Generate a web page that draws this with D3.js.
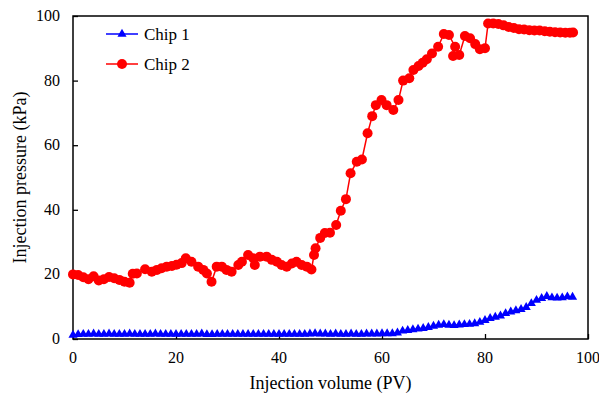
<!DOCTYPE html>
<html>
<head>
<meta charset="utf-8">
<script src="https://cdn.jsdelivr.net/npm/d3@7"></script>
<style>
  text { font-family: "Liberation Serif" !important; }
</style>
</head>
<body style="margin:0">
<div id="chart"></div>
<script>
// Chip 1 - one reading per PV
const chip1Volume = [
  0, 1, 2, 3, 4, 5, 6, 7, 8, 9, 10, 11, 12, 13, 14, 15, 16, 17, 18, 19,
  20, 21, 22, 23, 24, 25, 26, 27, 28, 29, 30, 31, 32, 33, 34, 35, 36, 37, 38, 39,
  40, 41, 42, 43, 44, 45, 46, 47, 48, 49, 50, 51, 52, 53, 54, 55, 56, 57, 58, 59,
  60, 61, 62, 63, 64, 65, 66, 67, 68, 69, 70, 71, 72, 73, 74, 75, 76, 77, 78, 79,
  80, 81, 82, 83, 84, 85, 86, 87, 88, 89, 90, 91, 92, 93, 94, 95, 96, 97
];
const chip1Pressure = [
  1.2, 1.4, 1.5, 1.5, 1.6, 1.5, 1.5, 1.6, 1.5, 1.5, 1.5, 1.6, 1.5, 1.5, 1.5, 1.5, 1.6, 1.5, 1.5, 1.5,
  1.5, 1.5, 1.5, 1.5, 1.5, 1.6, 1.4, 1.4, 1.5, 1.5, 1.5, 1.5, 1.5, 1.5, 1.5, 1.5, 1.5, 1.5, 1.5, 1.5,
  1.5, 1.5, 1.5, 1.5, 1.5, 1.5, 1.6, 1.7, 1.6, 1.6, 1.5, 1.6, 1.5, 1.5, 1.6, 1.5, 1.5, 1.6, 1.6, 1.6,
  1.7, 1.7, 1.7, 1.9, 2.5, 2.7, 2.9, 3.1, 3.3, 3.6, 4.0, 4.3, 4.5, 4.3, 4.2, 4.4, 4.5, 4.6, 4.8, 5.2,
  5.8, 6.4, 6.8, 7.2, 7.9, 8.4, 8.8, 9.2, 9.8, 11.0, 12.0, 12.6, 13.2, 12.8, 12.7, 12.8, 13.1, 13.0
];

// Chip 2 - readings are not evenly spaced
const chip2Volume = [
  0, 1, 2, 3, 4, 5, 6, 7, 8, 9, 10, 11, 11.6, 12.4, 14, 15.3, 16.3, 17.2, 18.2, 19.2,
  20.1, 21.1, 21.9, 23, 24.3, 25.3, 26, 26.9, 27.9, 28.9, 29.8, 30.8, 32.1, 32.8, 34, 35,
  35.3, 36.3, 37.6, 38.6, 39.6, 40.5, 41.5, 42.5, 43.4, 44.4, 45.4, 46.3, 46.8, 47.1, 48, 48.9,
  49.9, 51.1, 52, 53, 53.9, 55.1, 56.1, 57.2, 58.1, 58.8, 59.9, 60.9, 62.2, 63.2, 64.1, 65.3,
  66.1, 67.1, 67.9, 68.7, 69.7, 70.9, 72, 73, 74.2, 73.8, 75, 76.1, 77.1, 78.1, 79, 80,
  80.6, 81.6, 82.6, 83.6, 84.6, 85.6, 86.6, 87.6, 88.6, 89.6, 90.6, 91.6, 92.6, 93.6, 94.6,
  95.6, 96.5, 97.1
];
const chip2Pressure = [
  20.0, 19.8, 19.1, 18.5, 19.4, 18.1, 18.5, 19.2, 18.8, 18.3, 17.7, 17.4, 20.2, 20.3, 21.6, 20.8, 21.4, 21.9, 22.4, 22.6,
  23.0, 23.5, 25.0, 23.9, 22.4, 21.4, 20.3, 17.7, 22.4, 22.4, 21.4, 20.8, 22.9, 23.9, 26.0, 25.0,
  22.9, 25.5, 25.5, 24.5, 23.9, 22.9, 22.4, 23.4, 23.9, 22.9, 22.4, 21.5, 26.0, 28.1, 31.3, 32.8,
  32.9, 35.3, 39.7, 43.3, 51.3, 54.9, 55.6, 63.7, 69.0, 72.4, 74.0, 72.4, 70.9, 74.0, 80.0, 80.7,
  83.3, 84.5, 85.5, 86.6, 88.4, 90.5, 94.4, 94.1, 90.5, 87.6, 87.9, 93.8, 93.1, 91.3, 89.7, 90.0,
  97.7, 97.7, 97.5, 97.1, 96.6, 96.3, 95.9, 95.8, 95.6, 95.5, 95.5, 95.3, 95.1, 95.0, 94.9,
  94.8, 94.8, 94.9
];

const xTicks = [0, 20, 40, 60, 80, 100];
const yTicks = [0, 20, 40, 60, 80, 100];
const seriesNames = ["Chip 1", "Chip 2"];

const width = 599;
const height = 395;
const margin = { top: 16, right: 11, bottom: 56, left: 73 };
const plotW = width - margin.left - margin.right;
const plotH = height - margin.top - margin.bottom;

const svg = d3
  .select("#chart")
  .append("svg")
  .attr("width", width)
  .attr("height", height)
  .attr("font-family", "Liberation Serif");

const g = svg.append("g").attr("transform", `translate(${margin.left},${margin.top})`);

const x = d3.scaleLinear().domain([0, 100]).range([0, plotW]);
const y = d3.scaleLinear().domain([0, 100]).range([plotH, 0]);

// frame
g.append("rect")
  .attr("x", 0)
  .attr("y", 0)
  .attr("width", plotW)
  .attr("height", plotH)
  .attr("fill", "none")
  .attr("stroke", "#000")
  .attr("stroke-width", 1.5);

// ticks from d3 axes (inward), labels as plain text
const xAxis = g
  .append("g")
  .attr("transform", `translate(0,${plotH})`)
  .call(d3.axisBottom(x).tickValues(xTicks).tickSizeInner(-5).tickSizeOuter(0).tickFormat(""));
const yAxis = g
  .append("g")
  .call(d3.axisLeft(y).tickValues(yTicks).tickSizeInner(-5).tickSizeOuter(0).tickFormat(""));
[xAxis, yAxis].forEach((ax) => {
  ax.attr("font-family", null);
  ax.select(".domain").remove();
  ax.selectAll("text").remove();
  ax.selectAll("line").attr("stroke", "#000").attr("stroke-width", 1.3);
});

xTicks.forEach((t) => {
  g.append("text")
    .attr("font-size", 16)
    .attr("font-family", "Liberation Serif")
    .attr("x", x(t))
    .attr("y", plotH + 24)
    .attr("text-anchor", "middle")
    .text(String(t));
});
yTicks.forEach((t) => {
  g.append("text")
    .attr("font-size", 16)
    .attr("font-family", "Liberation Serif")
    .attr("x", -13)
    .attr("y", y(t) + 5)
    .attr("text-anchor", "end")
    .text(String(t));
});

const chip1 = chip1Volume.map((v, i) => ({ v: v, p: chip1Pressure[i] }));
const chip2 = chip2Volume.map((v, i) => ({ v: v, p: chip2Pressure[i] }));

const line = d3.line().x((d) => x(d.v)).y((d) => y(d.p));
const tri = d3.symbol().type(d3.symbolTriangle).size(36);

// Chip 2 (red circles)
g.append("path")
  .datum(chip2)
  .attr("d", line)
  .attr("fill", "none")
  .attr("stroke", "#ff0000")
  .attr("stroke-width", 1.5);
g.selectAll(".c2")
  .data(chip2)
  .enter()
  .append("circle")
  .attr("cx", (d) => x(d.v))
  .attr("cy", (d) => y(d.p))
  .attr("r", 5)
  .attr("fill", "#ff0000");

// Chip 1 (blue triangles)
g.append("path")
  .datum(chip1)
  .attr("d", line)
  .attr("fill", "none")
  .attr("stroke", "#0000ff")
  .attr("stroke-width", 1.5);
g.selectAll(".c1")
  .data(chip1)
  .enter()
  .append("path")
  .attr("d", tri)
  .attr("transform", (d) => `translate(${x(d.v)},${y(d.p)})`)
  .attr("fill", "#0000ff");

// legend
const legendColors = ["#0000ff", "#ff0000"];
seriesNames.forEach((name, i) => {
  const ly = 34 + i * 30;
  svg.append("line")
    .attr("x1", 106).attr("x2", 138).attr("y1", ly).attr("y2", ly)
    .attr("stroke", legendColors[i]).attr("stroke-width", 1.5);
  if (i === 0) {
    svg.append("path").attr("d", tri).attr("transform", `translate(122,${ly})`).attr("fill", legendColors[i]);
  } else {
    svg.append("circle").attr("cx", 122).attr("cy", ly).attr("r", 5).attr("fill", legendColors[i]);
  }
  svg.append("text")
    .attr("font-size", 17)
    .attr("font-family", "Liberation Serif")
    .attr("x", 144)
    .attr("y", ly + 6)
    .text(name);
});

// axis titles
svg.append("text")
  .attr("font-size", 18)
  .attr("font-family", "Liberation Serif")
  .attr("x", margin.left + plotW / 2)
  .attr("y", 389)
  .attr("text-anchor", "middle")
  .text("Injection volume (PV)");

svg.append("text")
  .attr("font-size", 18)
  .attr("font-family", "Liberation Serif")
  .attr("transform", `translate(26,${margin.top + plotH / 2}) rotate(-90)`)
  .attr("text-anchor", "middle")
  .text("Injection pressure (kPa)");
</script>
</body>
</html>
